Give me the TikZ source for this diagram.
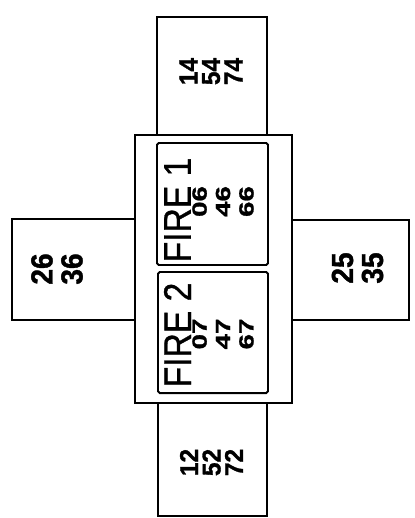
\documentclass[tikz,border=0pt]{standalone}
\usepackage{fontspec}
\setmainfont{Liberation Sans}
\newfontfamily\firefont[FakeStretch=0.87, FakeBold=0.8]{Liberation Sans}
\newfontfamily\innerfont[FakeStretch=1.35, FakeBold=1.2]{Liberation Sans}
\newfontfamily\endfont[FakeStretch=0.95, FakeBold=1.2]{Liberation Sans}
\newfontfamily\sidefont[FakeStretch=0.92, FakeBold=1.2]{Liberation Sans}
\usepackage{tikz}

\begin{document}
\begin{tikzpicture}[
  x=0.3mm, y=-0.3mm,
  box/.style={draw, line width=2pt},
  firebox/.style={draw, line width=1.7pt, rounded corners=1.5pt},
  lbl/.style={rotate=90, inner sep=0pt, align=center},
  firelbl/.style={lbl, font=\firefont\fontsize{33}{36}\selectfont},
  innernum/.style={lbl, font=\innerfont\bfseries\fontsize{17.5}{20}\selectfont},
  endnum/.style={lbl, font=\endfont\bfseries\fontsize{22}{19.2}\selectfont},
  sidenum/.style={lbl, font=\sidefont\bfseries\fontsize{26}{25.6}\selectfont}
]
\useasboundingbox (0,0) rectangle (414,518);
\draw[box] (157,17) rectangle (267,135);
\draw[box] (158,403) rectangle (267,516);
\draw[box] (12,219) rectangle (135,320);
\draw[box] (292,220) rectangle (409,320);
\draw[box] (135,135) rectangle (292,403);
\draw[firebox] (157,143) rectangle (268,265);
\draw[firebox] (158,272) rectangle (268,393);
\node[firelbl] (f1) at (177.5,210) {FIRE 1};
\node[firelbl] (f2) at (177.5,335) {FIRE 2};
\node[innernum] (n1) at (223,201.5) {06\\46\\66};
\node[innernum] (n2) at (223,334) {07\\47\\67};
\node[endnum] (top) at (211,71.5) {14\\54\\74};
\node[endnum] (bot) at (211.5,462.5) {12\\52\\72};
\node[sidenum] (lft) at (57,269) {26\\36};
\node[sidenum] (rgt) at (357.5,268) {25\\35};
\end{tikzpicture}
\end{document}
